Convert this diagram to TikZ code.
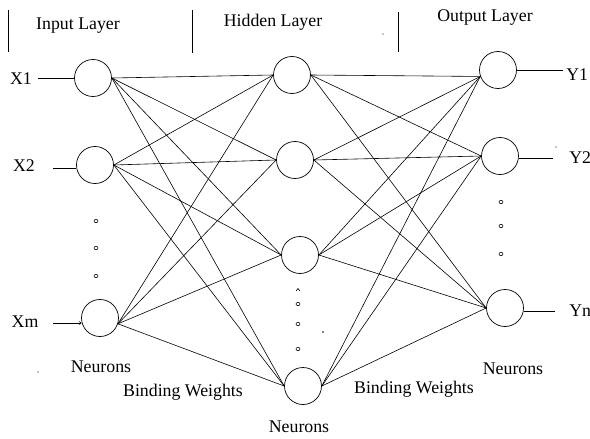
\documentclass[tikz,border=0pt]{standalone}
\usepackage{fontspec}
\setmainfont{Liberation Serif}
\usetikzlibrary{arrows.meta}
\begin{document}
\begin{tikzpicture}[x=1pt,y=-1pt,
  neuron/.style={circle,draw,line width=0.7pt,minimum size=37pt,inner sep=0pt},
  lbl/.style={font=\fontsize{17.8}{20}\selectfont,inner sep=0pt},
  wire/.style={line width=0.6pt},
  mdot/.style={draw,line width=0.6pt},
  every path/.style={line width=0.6pt}]
\useasboundingbox (0,0) rectangle (590,439);
% header
\draw[line width=1pt] (8,10) -- (8,52);
\draw[line width=1pt] (192,10) -- (192,53);
\draw[line width=1pt] (398,12) -- (398,52);
\node[lbl] (tin) at (78,26) {Input Layer};
\node[lbl] (thid) at (273,22) {Hidden Layer};
\node[lbl] (tout) at (485,18) {Output Layer};
% neurons
\node[neuron] (I1) at (93,78) {};
\node[neuron] (I2) at (95,165) {};
\node[neuron] (I3) at (100,318) {};
\node[neuron] (H1) at (292,75) {};
\node[neuron] (H2) at (295,160) {};
\node[neuron] (H3) at (300,255) {};
\node[neuron] (H4) at (303,386) {};
\node[neuron] (O1) at (498,70) {};
\node[neuron] (O2) at (500,156) {};
\node[neuron] (O3) at (505,308) {};
% input labels and lines
\node[lbl] (X1) at (21,79) {X1};
\node[lbl] (X2) at (24,166) {X2};
\node[lbl] (Xm) at (25,322) {Xm};
\coordinate (x1e) at (38,78);
\coordinate (x2e) at (53,168);
\coordinate (xme) at (53,323);
\draw[wire] (x1e) -- (I1.west);
\draw[wire] (x2e) -- (I2.west |- x2e);
\draw[wire,-{Straight Barb[length=2pt,width=3pt]}] (xme) -- ([xshift=0.5pt]I3.west |- xme);
% output labels and lines
\node[lbl,anchor=west] (Y1) at (566,75) {Y1};
\node[lbl,anchor=west] (Y2) at (569,158) {Y2};
\node[lbl,anchor=west] (Yn) at (569,311) {Yn};
\coordinate (y1s) at (563,70);
\coordinate (y2s) at (553,158);
\coordinate (yns) at (555,311);
\draw[wire] (O1.east) -- (y1s);
\draw[wire] (O2.east |- y2s) -- (y2s);
\draw[wire] (O3.east |- yns) -- (yns);
% weights input -> hidden
\foreach \i/\a in {I1/east,I2/east,I3/-18}{
  \foreach \h in {H1,H2,H3,H4}{
    \draw[wire] (\i.\a) -- (\h.west);
  }
}
% weights hidden -> output
\foreach \h in {H1,H2,H3,H4}{
  \foreach \o/\b in {O1/200,O2/west,O3/west}{
    \draw[wire] (\h.east) -- (\o.\b);
  }
}
% ellipsis marks
\foreach \y in {221,248,276}{ \draw[mdot] (96,\y) ellipse (2pt and 1.6pt); }
\foreach \y in {304,324,349}{ \draw[mdot] (298,\y) ellipse (2pt and 1.6pt); }
\foreach \y in {202,226,254}{ \draw[mdot] (501,\y) ellipse (2pt and 1.6pt); }
\draw[mdot] (296,291) -- (298,288.5) -- (300,291);
% stray specks
\fill (383,34) circle (0.7pt);
\fill (323,332) circle (0.8pt);
\fill (556,147) circle (0.6pt);
\fill (38,372) circle (0.6pt);
% bottom labels
\node[lbl] (n1) at (101,367) {Neurons};
\node[lbl] (bw1) at (183,392) {Binding Weights};
\node[lbl] (n2) at (299,427) {Neurons};
\node[lbl] (bw2) at (414,389) {Binding Weights};
\node[lbl] (n3) at (513,369) {Neurons};
\end{tikzpicture}
\end{document}
